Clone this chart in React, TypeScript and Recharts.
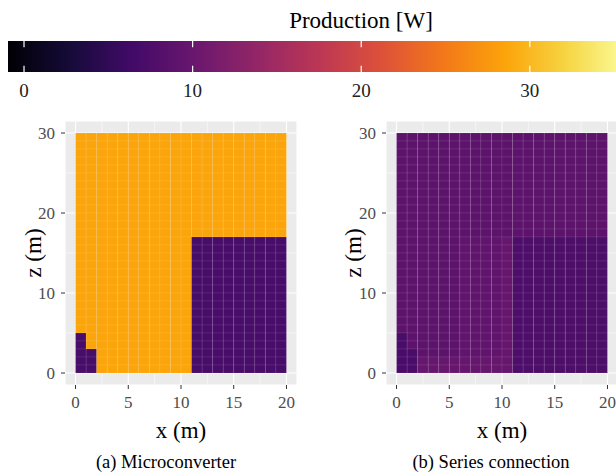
import React from 'react'
import {
  ComposedChart,
  XAxis,
  YAxis,
  CartesianGrid,
  ReferenceArea,
  ReferenceLine,
  Label,
} from 'recharts'

const FONT = '"Liberation Serif", "DejaVu Serif", serif'

// colour scale (Production [W])
const colorbarRange = [-0.95, 36]
const colorbarTicks = [0, 10, 20, 30]
const inferno = [
  '#000004', '#160b39', '#420a68', '#6a176e', '#932667', '#bc3754',
  '#dd513a', '#f37819', '#fca50a', '#f6d746', '#fcffa4',
]

// panel axes
const xTicks = [0, 5, 10, 15, 20]
const zTicks = [0, 10, 20, 30]
const xMinor = [2.5, 7.5, 12.5, 17.5]
const zMinor = [5, 15, 25]

// one string per row of 1 m tiles, top row (z = 29) first, x = 0..19
const microRows = [
  'OOOOOOOOOOOOOOOOOOOO', 'OOOOOOOOOOOOOOOOOOOO', 'OOOOOOOOOOOOOOOOOOOO',
  'OOOOOOOOOOOOOOOOOOOO', 'OOOOOOOOOOOOOOOOOOOO', 'OOOOOOOOOOOOOOOOOOOO',
  'OOOOOOOOOOOOOOOOOOOO', 'OOOOOOOOOOOOOOOOOOOO', 'OOOOOOOOOOOOOOOOOOOO',
  'OOOOOOOOOOOOOOOOOOOO', 'OOOOOOOOOOOOOOOOOOOO', 'OOOOOOOOOOOOOOOOOOOO',
  'OOOOOOOOOOOOOOOOOOOO',
  'OOOOOOOOOOOPPPPPPPPP', 'OOOOOOOOOOOPPPPPPPPP', 'OOOOOOOOOOOPPPPPPPPP',
  'OOOOOOOOOOOPPPPPPPPP', 'OOOOOOOOOOOPPPPPPPPP', 'OOOOOOOOOOOPPPPPPPPP',
  'OOOOOOOOOOOPPPPPPPPP', 'OOOOOOOOOOOPPPPPPPPP', 'OOOOOOOOOOOPPPPPPPPP',
  'OOOOOOOOOOOPPPPPPPPP', 'OOOOOOOOOOOPPPPPPPPP', 'OOOOOOOOOOOPPPPPPPPP',
  'POOOOOOOOOOPPPPPPPPP', 'POOOOOOOOOOPPPPPPPPP',
  'PPOOOOOOOOOPPPPPPPPP', 'PPOOOOOOOOOPPPPPPPPP', 'PPOOOOOOOOOPPPPPPPPP',
]
const microLevels: Record<string, number> = { O: 28.6, P: 7.0 }

const seriesRows = [
  'aaaaaaaaaaaaaaaaaaaa', 'aaaaaaaaaaaaaaaaaaaa', 'aaaaaaaaaaaaaaaaaaaa',
  'aaaaaaaaaaaaaaaaaaaa', 'aaaaaaaaaaaaaaaaaaaa', 'aaaaaaaaaaaaaaaaaaaa',
  'aaaaaaaaaaaaaaaaaaaa', 'aaaaaaaaaaaaaaaaaaaa', 'aaaaaaaaaaaaaaaaaaaa',
  'aaaaaaaaaaaaaaaaaaaa', 'aaaaaaaaaaaaaaaaaaaa', 'aaaaaaaaaaaaaaaaaaaa',
  'aaaaaaaaaaaaaaaaaaaa',
  'aaaaaabbbbcddddddddd', 'aaaaaabbbbcddddddddd', 'aaaaaabbbbcddddddddd',
  'aaaaaabbbbcddddddddd', 'aaaaaabbbbcddddddddd', 'aaaaaabbbbcddddddddd',
  'aaaaaabbbbcddddddddd', 'aaaaaabbbbcddddddddd', 'aaaaaabbbbcddddddddd',
  'aaaaaabbbbcddddddddd', 'aaaaaabbbbcddddddddd', 'aaaaaabbbbcddddddddd',
  'eaaaaabbbbcddddddddd', 'eaaaaabbbbcddddddddd',
  'eeaaaabbbbcddddddddd',
  'eecccccccccddddddddd', 'eecccccccccddddddddd',
]
const seriesLevels: Record<string, number> = { a: 8.9, b: 9.3, c: 9.9, d: 7.5, e: 7.1 }

function hexToRgb(h: string) {
  return [1, 3, 5].map((i) => parseInt(h.slice(i, i + 2), 16))
}

function infernoColor(v: number) {
  const t = Math.min(1, Math.max(0, (v - colorbarRange[0]) / (colorbarRange[1] - colorbarRange[0])))
  const p = t * (inferno.length - 1)
  const i = Math.min(Math.floor(p), inferno.length - 2)
  const f = p - i
  const a = hexToRgb(inferno[i])
  const b = hexToRgb(inferno[i + 1])
  return `rgb(${a.map((c, k) => Math.round(c + (b[k] - c) * f)).join(',')})`
}

function toCells(rows: string[], levels: Record<string, number>) {
  const cells: { x: number; z: number; value: number }[] = []
  rows.forEach((row, i) => {
    const z = rows.length - 1 - i
    row.split('').forEach((k, x) => cells.push({ x, z, value: levels[k] }))
  })
  return cells
}

function Colorbar() {
  return (
    <div style={{ position: 'absolute', left: 0, top: 0 }}>
      <ComposedChart
        width={631}
        height={102}
        data={colorbarTicks.map((v) => ({ v, y: 0.5 }))}
        margin={{ top: 41, right: 0, bottom: 0, left: 8 }}
      >
        <defs>
          <linearGradient id="infernoBar" x1="0" y1="0" x2="1" y2="0">
            {inferno.map((c, i) => (
              <stop key={c} offset={i / (inferno.length - 1)} stopColor={c} />
            ))}
          </linearGradient>
        </defs>
        <XAxis
          type="number"
          dataKey="v"
          domain={colorbarRange}
          ticks={colorbarTicks}
          interval={0}
          allowDataOverflow
          axisLine={false}
          tickLine={false}
          tickSize={0}
          tickMargin={12}
          height={30}
          tick={{ fill: '#222', fontSize: 19, fontFamily: FONT }}
        />
        <YAxis type="number" dataKey="y" domain={[0, 1]} allowDataOverflow hide />
        <ReferenceArea
          x1={colorbarRange[0]}
          x2={colorbarRange[1]}
          y1={0}
          y2={1}
          fill="url(#infernoBar)"
          fillOpacity={1}
          stroke="none"
          ifOverflow="visible"
        />
        {colorbarTicks.map((t) => (
          <ReferenceLine
            key={'lo' + t}
            segment={[{ x: t, y: 0 }, { x: t, y: 0.2 }]}
            stroke="#ffffff"
            strokeWidth={1.2}
            ifOverflow="visible"
          />
        ))}
        {colorbarTicks.map((t) => (
          <ReferenceLine
            key={'hi' + t}
            segment={[{ x: t, y: 0.8 }, { x: t, y: 1 }]}
            stroke="#ffffff"
            strokeWidth={1.2}
            ifOverflow="visible"
          />
        ))}
      </ComposedChart>
    </div>
  )
}

interface PanelProps {
  rows: string[]
  levels: Record<string, number>
  left: number
  width: number
  marginLeft: number
  yAxisWidth: number
}

function Panel({ rows, levels, left, width, marginLeft, yAxisWidth }: PanelProps) {
  const cells = toCells(rows, levels)
  return (
    <div style={{ position: 'absolute', left, top: 110 }}>
      <ComposedChart
        width={width}
        height={340}
        data={cells}
        margin={{ top: 11, right: 8, bottom: 5, left: marginLeft }}
      >
        <CartesianGrid fill="#EBEBEB" stroke="#ffffff" strokeWidth={1.1} />
        <CartesianGrid
          horizontalValues={zMinor}
          verticalValues={xMinor}
          stroke="#ffffff"
          strokeWidth={0.5}
        />
        <XAxis
          type="number"
          dataKey="x"
          domain={[-1, 21]}
          ticks={xTicks}
          interval={0}
          allowDataOverflow
          axisLine={false}
          stroke="#333333"
          tickSize={4}
          tickMargin={7}
          height={60}
          tick={{ fill: '#4D4D4D', fontSize: 17, fontFamily: FONT }}
        >
          <Label value="x (m)" position="insideBottom" offset={7} fill="#000" fontSize={23} fontFamily={FONT} />
        </XAxis>
        <YAxis
          type="number"
          dataKey="z"
          domain={[-1.5, 31.5]}
          ticks={zTicks}
          interval={0}
          allowDataOverflow
          axisLine={false}
          stroke="#333333"
          tickSize={4}
          tickMargin={6}
          width={yAxisWidth}
          tick={{ fill: '#4D4D4D', fontSize: 17, fontFamily: FONT }}
        >
          <Label value="z (m)" angle={-90} position="center" fill="#000" fontSize={23} fontFamily={FONT} />
        </YAxis>
        {cells.map((c) => (
          <ReferenceArea
            key={`${c.x}-${c.z}`}
            x1={c.x}
            x2={c.x + 1}
            y1={c.z}
            y2={c.z + 1}
            fill={infernoColor(c.value)}
            fillOpacity={1}
            stroke="#ffffff"
            strokeOpacity={0.1}
            strokeWidth={0.7}
            ifOverflow="visible"
          />
        ))}
      </ComposedChart>
    </div>
  )
}

const textStyle: React.CSSProperties = {
  position: 'absolute',
  fontFamily: FONT,
  color: '#000',
  whiteSpace: 'nowrap',
  textAlign: 'center',
}

export default function App() {
  return (
    <div
      style={{
        position: 'fixed',
        left: 0,
        top: 0,
        width: 616,
        height: 476,
        overflow: 'hidden',
        background: '#fff',
      }}
    >
      <div style={{ ...textStyle, left: 211, width: 300, top: 9, fontSize: 23, lineHeight: '23px' }}>
        Production [W]
      </div>
      <Colorbar />
      <Panel rows={microRows} levels={microLevels} left={0} width={305} marginLeft={0} yAxisWidth={65} />
      <Panel rows={seriesRows} levels={seriesLevels} left={300} width={326} marginLeft={19} yAxisWidth={67} />
      <div style={{ ...textStyle, left: 16, width: 300, top: 453, fontSize: 18.5, lineHeight: '18.5px' }}>
        (a) Microconverter
      </div>
      <div style={{ ...textStyle, left: 341, width: 300, top: 453, fontSize: 18.5, lineHeight: '18.5px' }}>
        (b) Series connection
      </div>
    </div>
  )
}
